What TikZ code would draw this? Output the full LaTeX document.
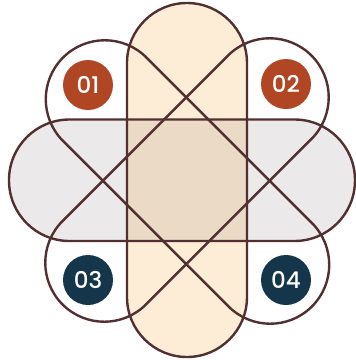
\documentclass[tikz,border=0pt]{standalone}
\usepackage{fontspec}
\setmainfont{Poppins Medium}
\usetikzlibrary{positioning}
\definecolor{petalPeach}{HTML}{FEEDD6}
\definecolor{petalGray}{HTML}{EBE9EA}
\definecolor{petalTan}{HTML}{EADAC6}
\definecolor{lineBrown}{HTML}{523031}
\definecolor{badgeRust}{HTML}{B14624}
\definecolor{badgeNavy}{HTML}{14354A}
\tikzset{
  outline/.style={draw=lineBrown, line width=2.4pt},
  badge/.style={circle, minimum size=50pt, inner sep=0pt, text=white, font=\fontsize{23}{23}\selectfont}
}

\begin{document}
\begin{tikzpicture}[x=1pt,y=-1pt]
        \useasboundingbox (0,0) rectangle (356,360);
        \clip (0,0) rectangle (356,360);
        \fill[petalGray, rounded corners=60.5pt] (9,119.5) rectangle (355,241);
        \fill[petalPeach, rounded corners=60pt] (127,3) rectangle (247,357);
        \begin{scope}
          \clip[rounded corners=60.5pt] (9,119.5) rectangle (355,241);
          \fill[petalTan, rounded corners=60pt] (127,3) rectangle (247,357);
        \end{scope}
        \draw[outline, rounded corners=60.5pt] (9,119.5) rectangle (355,241);
        \draw[outline, rounded corners=60pt] (127,3) rectangle (247,357);
        \draw[outline, rounded corners=59pt, rotate around={-45:(187.5,182)}] (11.5,123) rectangle (363.5,241);
        \draw[outline, rounded corners=59pt, rotate around={45:(187,180)}] (11,121) rectangle (363,239);
        \node[badge, fill=badgeRust] (b01) at (88,85) {01};
        \node[badge, fill=badgeRust] (b02) at (286,84) {02};
        \node[badge, fill=badgeNavy] (b03) at (88,280) {03};
        \node[badge, fill=badgeNavy] (b04) at (286,280) {04};
      \end{tikzpicture}
\end{document}
